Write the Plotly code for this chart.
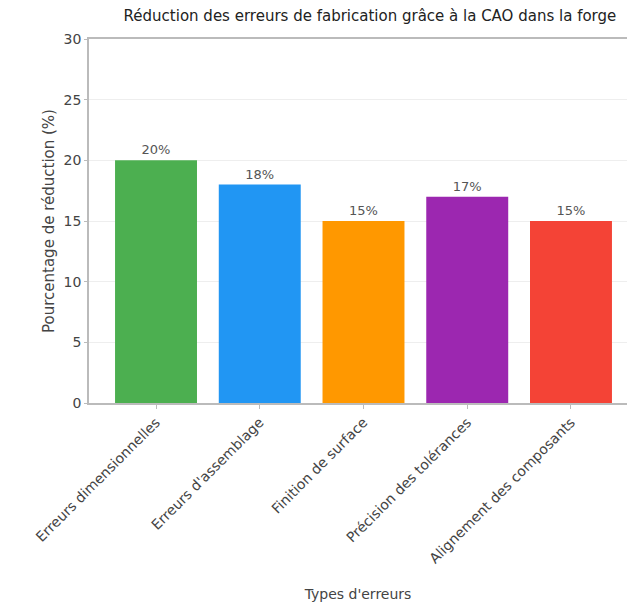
import plotly.graph_objects as go

categories = ["Erreurs dimensionnelles", "Erreurs d'assemblage", "Finition de surface",
              "Précision des tolérances", "Alignement des composants"]
values = [20, 18, 15, 17, 15]
labels = ["20%", "18%", "15%", "17%", "15%"]
colors = ["#4CAF50", "#2196F3", "#FF9800", "#9C27B0", "#F44336"]

FONT = "DejaVu Sans"

fig = go.Figure(go.Bar(
    x=categories, y=values, text=labels, textposition="outside",
    marker=dict(color=colors, line=dict(width=0)),
    textfont=dict(family=FONT, size=13, color="#555"),
    cliponaxis=False,
))

fig.update_layout(
    width=627, height=603,
    margin=dict(l=89, r=0, t=39, b=200),
    paper_bgcolor="white", plot_bgcolor="white",
    font=dict(family=FONT, size=13, color="#444"),
    title=dict(text="Réduction des erreurs de fabrication grâce à la CAO dans la forge",
               x=0.59, xanchor="center", y=0.982, yanchor="top",
               font=dict(family=FONT, size=15, color="#222")),
    bargap=0.21,
    showlegend=False,
)
fig.update_xaxes(
    range=[-0.646, 4.54], showline=True, linecolor="#bbb", linewidth=1.5, mirror=True,
    ticks="outside", ticklen=4, tickcolor="#bbb", tickangle=-45,
    tickfont=dict(family=FONT, size=14, color="#444"),
    title=dict(text="Types d'erreurs", font=dict(family=FONT, size=14, color="#444"), standoff=24),
)
fig.update_yaxes(
    range=[0, 30], dtick=5, showline=True, linecolor="#bbb", linewidth=1.5,
    showgrid=True, gridcolor="#eeeeee", gridwidth=1, zeroline=False,
    ticks="outside", ticklen=3, tickcolor="#bbb",
    tickfont=dict(family=FONT, size=14, color="#444"),
    title=dict(text="Pourcentage de réduction (%)", font=dict(family=FONT, size=15, color="#444"), standoff=5),
)

fig.write_html("out.html")
